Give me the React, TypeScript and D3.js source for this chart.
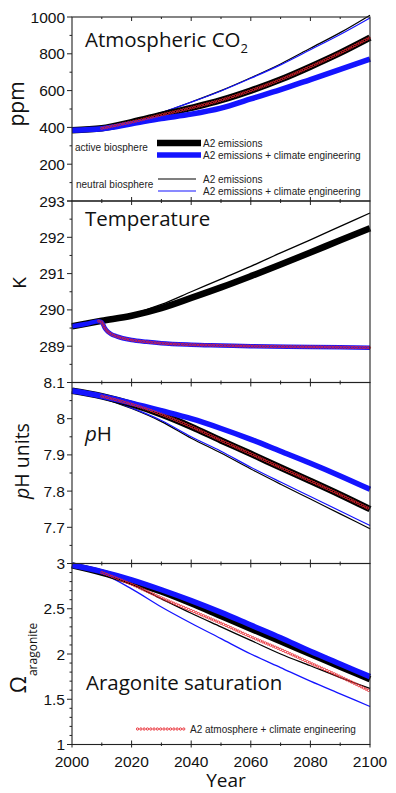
import React, { useEffect, useRef } from 'react';
import * as d3 from 'd3';

// ---------- data ----------
const years = [2000, 2010, 2020, 2030, 2040, 2050, 2060, 2070, 2080, 2090, 2100];
const redYears = [2010, 2020, 2030, 2040, 2050, 2060, 2070, 2080, 2090, 2100];

// Atmospheric CO2 (ppm)
const co2ActiveA2 = [385, 395, 429, 468, 506, 548, 600, 660, 730, 805, 888];
const co2ActiveCE = [385, 393, 420, 448, 472, 505, 555, 605, 660, 715, 771];
const co2NeutralA2 = [385, 395, 432, 480, 538, 600, 670, 745, 830, 915, 1010];
const co2NeutralCE = [385, 395, 432, 480, 537, 598, 667, 740, 822, 905, 995];
const co2A2AtmCE = [395, 429, 468, 506, 548, 600, 660, 730, 805, 888];

// Temperature (K)
const tempActiveA2 = [289.55, 289.7, 289.84, 290.05, 290.33, 290.62, 290.93, 291.25, 291.58, 291.92, 292.25];
const tempNeutralA2 = [289.55, 289.7, 289.88, 290.15, 290.5, 290.85, 291.2, 291.57, 291.93, 292.3, 292.67];
const tempCEYears = [2000, 2005, 2009, 2010, 2011, 2012, 2013, 2015, 2017, 2020, 2025, 2030, 2040, 2050, 2060, 2080, 2100];
const tempActiveCE = [289.55, 289.62, 289.69, 289.66, 289.5, 289.4, 289.34, 289.27, 289.22, 289.17, 289.12, 289.08, 289.04, 289.02, 289.0, 288.98, 288.96];
const tempNeutralCE = [289.55, 289.62, 289.69, 289.66, 289.5, 289.4, 289.34, 289.27, 289.22, 289.17, 289.12, 289.08, 289.04, 289.02, 289.0, 288.98, 288.96];
const tempRedYears = [2009, 2010, 2011, 2012, 2013, 2015, 2017, 2020, 2025, 2030, 2040, 2050, 2060, 2080, 2100];
const tempA2AtmCE = [289.69, 289.66, 289.5, 289.4, 289.34, 289.27, 289.22, 289.17, 289.12, 289.08, 289.04, 289.02, 289.0, 288.98, 288.96];

// pH
const phActiveA2 = [8.077, 8.062, 8.04, 8.012, 7.978, 7.94, 7.903, 7.865, 7.828, 7.79, 7.75];
const phActiveCE = [8.077, 8.062, 8.043, 8.022, 8.0, 7.973, 7.943, 7.91, 7.877, 7.842, 7.805];
const phNeutralA2 = [8.077, 8.057, 8.028, 7.992, 7.946, 7.905, 7.861, 7.819, 7.778, 7.737, 7.696];
const phNeutralCE = [8.077, 8.058, 8.03, 7.995, 7.95, 7.91, 7.866, 7.825, 7.785, 7.745, 7.705];
const phA2AtmCE = [8.062, 8.04, 8.012, 7.978, 7.94, 7.903, 7.865, 7.828, 7.79, 7.75];

// Aragonite saturation
const arActiveA2 = [2.98, 2.9, 2.8, 2.69, 2.56, 2.42, 2.28, 2.14, 2.0, 1.86, 1.72];
const arActiveCE = [2.98, 2.91, 2.82, 2.71, 2.59, 2.46, 2.32, 2.18, 2.03, 1.89, 1.75];
const arNeutralA2 = [2.98, 2.9, 2.77, 2.61, 2.45, 2.3, 2.15, 2.0, 1.87, 1.74, 1.62];
const arNeutralCE = [2.98, 2.89, 2.72, 2.52, 2.34, 2.17, 2.0, 1.85, 1.7, 1.56, 1.42];
const arA2AtmCE = [2.9, 2.77, 2.62, 2.48, 2.34, 2.19, 2.05, 1.9, 1.75, 1.59];

const xTickYears = [2000, 2020, 2040, 2060, 2080, 2100];

const BLUE = '#1414ff';
const RED = '#e8262e';
const TICKFONT = '"Liberation Sans", Arial, sans-serif';
const TITLEFONT = '"Open Sans", "Noto Sans", sans-serif';

export default function App() {
  const ref = useRef<SVGSVGElement>(null);

  useEffect(() => {
    const svg = d3.select(ref.current);
    svg.selectAll('*').remove();

    const X0 = 72, X1 = 370;
    const x = d3.scaleLinear().domain([2000, 2100]).range([X0, X1]);

    type S = { xs: number[]; ys: number[]; color: string; w: number; dotted?: boolean };
    const panels = [
      {
        top: 17, bottom: 201, domain: [0, 1000], major: 200, minor: 100, labelBottom: false,
        series: [
          { xs: years, ys: co2NeutralA2, color: '#000', w: 1.2 },
          { xs: years, ys: co2NeutralCE, color: BLUE, w: 1.2 },
          { xs: years, ys: co2ActiveA2, color: '#000', w: 6.5 },
          { xs: years, ys: co2ActiveCE, color: BLUE, w: 5.5 },
          { xs: redYears, ys: co2A2AtmCE, color: RED, w: 1, dotted: true },
        ] as S[],
      },
      {
        top: 201, bottom: 382.5, domain: [288, 293], major: 1, minor: 0.5, labelBottom: false,
        series: [
          { xs: years, ys: tempNeutralA2, color: '#000', w: 1.3 },
          { xs: tempCEYears, ys: tempNeutralCE, color: BLUE, w: 1.3 },
          { xs: years, ys: tempActiveA2, color: '#000', w: 6.5 },
          { xs: tempCEYears, ys: tempActiveCE, color: BLUE, w: 4.5 },
          { xs: tempRedYears, ys: tempA2AtmCE, color: RED, w: 1, dotted: true },
        ] as S[],
      },
      {
        top: 382.5, bottom: 563.5, domain: [7.6, 8.1], major: 0.1, minor: 0.05, labelBottom: false,
        series: [
          { xs: years, ys: phNeutralA2, color: '#000', w: 1.2 },
          { xs: years, ys: phNeutralCE, color: BLUE, w: 1.2 },
          { xs: years, ys: phActiveA2, color: '#000', w: 6.5 },
          { xs: years, ys: phActiveCE, color: BLUE, w: 5.5 },
          { xs: redYears, ys: phA2AtmCE, color: RED, w: 1, dotted: true },
        ] as S[],
      },
      {
        top: 563.5, bottom: 744.5, domain: [1, 3], major: 0.5, minor: 0.1, labelBottom: true,
        series: [
          { xs: years, ys: arNeutralA2, color: '#000', w: 1.3 },
          { xs: years, ys: arNeutralCE, color: BLUE, w: 1.3 },
          { xs: years, ys: arActiveA2, color: '#000', w: 6.5 },
          { xs: years, ys: arActiveCE, color: BLUE, w: 5.5 },
          { xs: redYears, ys: arA2AtmCE, color: RED, w: 1, dotted: true },
        ] as S[],
      },
    ];

    const drawDots = (node: SVGPathElement, g: any, step: number) => {
      const L = node.getTotalLength();
      for (let s = 0; s <= L + 0.01; s += step) {
        const p = node.getPointAtLength(s);
        g.append('circle').attr('cx', p.x).attr('cy', p.y).attr('r', 1.15)
          .attr('fill', 'none').attr('stroke', RED).attr('stroke-width', 0.9);
      }
    };

    panels.forEach((P) => {
      const y = d3.scaleLinear().domain(P.domain).range([P.bottom, P.top]);
      const g = svg.append('g');

      P.series.forEach((s) => {
        const pts = s.xs.map((yr, i) => [yr, s.ys[i]] as [number, number]);
        const line = d3.line<[number, number]>()
          .x((d) => x(d[0]))
          .y((d) => y(d[1]))
          .curve(d3.curveMonotoneX);
        if (s.dotted) {
          const path = g.append('path').attr('d', line(pts)).attr('fill', 'none').attr('stroke', 'none');
          drawDots(path.node() as SVGPathElement, g, 2.7);
        } else {
          g.append('path').attr('d', line(pts)).attr('fill', 'none')
            .attr('stroke', s.color).attr('stroke-width', s.w)
            .attr('stroke-linejoin', 'round');
        }
      });

      g.append('rect').attr('x', X0).attr('y', P.top).attr('width', X1 - X0).attr('height', P.bottom - P.top)
        .attr('fill', 'none').attr('stroke', '#222').attr('stroke-width', 1.1);

      const [lo, hi] = P.domain;
      const n = Math.round((hi - lo) / P.minor);
      for (let i = 0; i <= n; i++) {
        const v = lo + i * P.minor;
        const r = v / P.major;
        const isMajor = Math.abs(r - Math.round(r)) < 1e-6;
        const yy = y(v);
        g.append('line').attr('x1', X0 - (isMajor ? 5 : 2.5)).attr('x2', X0).attr('y1', yy).attr('y2', yy)
          .attr('stroke', '#222').attr('stroke-width', 1);
        if (isMajor && (i > 0 || P.labelBottom)) {
          g.append('text').attr('x', 65).attr('y', yy).attr('dy', '0.36em')
            .attr('text-anchor', 'end').attr('font-family', TICKFONT).attr('font-size', 15.5)
            .attr('fill', '#111').text(String(+v.toFixed(2)));
        }
      }

      for (let yr = 2010; yr < 2100; yr += 10) {
        const major = yr % 20 === 0;
        const len = major ? 4 : 2;
        const xx = x(yr);
        g.append('line').attr('x1', xx).attr('x2', xx).attr('y1', P.top).attr('y2', P.top + len)
          .attr('stroke', '#222').attr('stroke-width', 1);
        g.append('line').attr('x1', xx).attr('x2', xx).attr('y1', P.bottom).attr('y2', P.bottom - len)
          .attr('stroke', '#222').attr('stroke-width', 1);
      }
    });

    const yb = 744.5;
    for (let yr = 2000; yr <= 2100; yr += 10) {
      const major = yr % 20 === 0;
      svg.append('line').attr('x1', x(yr)).attr('x2', x(yr)).attr('y1', yb).attr('y2', yb + (major ? 3 : 1.5))
        .attr('stroke', '#222').attr('stroke-width', 1);
    }
    xTickYears.forEach((yr) => {
      svg.append('text').attr('x', x(yr)).attr('y', 767).attr('text-anchor', 'middle')
        .attr('font-family', TICKFONT).attr('font-size', 15.5).attr('fill', '#111').text(String(yr));
    });
    svg.append('text').attr('x', 226).attr('y', 786.5).attr('text-anchor', 'middle')
      .attr('font-family', TITLEFONT).attr('font-size', 19).attr('fill', '#111').text('Year');

    const t1 = svg.append('text').attr('x', 85).attr('y', 46.5).attr('font-family', TITLEFONT)
      .attr('font-size', 20.5).attr('fill', '#111');
    t1.append('tspan').text('Atmospheric CO');
    t1.append('tspan').attr('font-size', 13).attr('dy', 6).text('2');
    svg.append('text').attr('x', 85).attr('y', 226).attr('font-family', TITLEFONT)
      .attr('font-size', 20.5).attr('fill', '#111').text('Temperature');
    const t3 = svg.append('text').attr('x', 85).attr('y', 440.5).attr('font-family', TITLEFONT)
      .attr('font-size', 20.5).attr('fill', '#111');
    t3.append('tspan').attr('font-style', 'italic').text('p');
    t3.append('tspan').text('H');
    svg.append('text').attr('x', 86).attr('y', 690).attr('font-family', TITLEFONT)
      .attr('font-size', 20.5).attr('fill', '#111').text('Aragonite saturation');

    svg.append('text').attr('transform', 'translate(24,104) rotate(-90)').attr('text-anchor', 'middle')
      .attr('font-family', TITLEFONT).attr('font-size', 21).attr('fill', '#111').text('ppm');
    svg.append('text').attr('transform', 'translate(25.5,283) rotate(-90)').attr('text-anchor', 'middle')
      .attr('font-family', TITLEFONT).attr('font-size', 19).attr('fill', '#111').text('K');
    const ph = svg.append('text').attr('transform', 'translate(29,461) rotate(-90)').attr('text-anchor', 'middle')
      .attr('font-family', TITLEFONT).attr('font-size', 19.5).attr('fill', '#111');
    ph.append('tspan').attr('font-style', 'italic').text('p');
    ph.append('tspan').text('H units');
    const om = svg.append('text').attr('transform', 'translate(25.5,658) rotate(-90)').attr('text-anchor', 'middle')
      .attr('font-family', TITLEFONT).attr('font-size', 22).attr('fill', '#111');
    om.append('tspan').text('Ω');
    om.append('tspan').attr('font-size', 12).attr('dy', 11).text('aragonite');

    const LF = 10;
    const leg = svg.append('g').attr('font-family', TICKFONT).attr('font-size', LF).attr('fill', '#222');
    leg.append('text').attr('x', 75).attr('y', 150.5).text('active biosphere');
    leg.append('text').attr('x', 76).attr('y', 187.5).text('neutral biosphere');
    const legRows = [
      { y: 143, color: '#000', w: 6.5, label: 'A2 emissions' },
      { y: 155, color: BLUE, w: 5.5, label: 'A2 emissions + climate engineering' },
      { y: 179, color: '#000', w: 1.2, label: 'A2 emissions' },
      { y: 191, color: BLUE, w: 1.2, label: 'A2 emissions + climate engineering' },
    ];
    legRows.forEach((r, i) => {
      const x1 = i < 2 ? 157 : 158;
      const x2 = i < 2 ? 201 : 196;
      leg.append('line').attr('x1', x1).attr('x2', x2).attr('y1', r.y).attr('y2', r.y)
        .attr('stroke', r.color).attr('stroke-width', r.w);
      leg.append('text').attr('x', 203).attr('y', r.y + 3.5).text(r.label);
    });

    const lp = svg.append('path').attr('d', d3.line()([[x(2022), 729], [x(2038), 729]]))
      .attr('stroke', 'none').attr('fill', 'none');
    drawDots(lp.node() as SVGPathElement, svg.append('g'), 3.3);
    svg.append('text').attr('x', 190).attr('y', 732.5).attr('font-family', TICKFONT).attr('font-size', LF)
      .attr('fill', '#222').text('A2 atmosphere + climate engineering');
  }, []);

  return (
    <svg
      ref={ref}
      width={396}
      height={793}
      style={{ position: 'absolute', left: 0, top: 0, background: '#fff' }}
    />
  );
}
